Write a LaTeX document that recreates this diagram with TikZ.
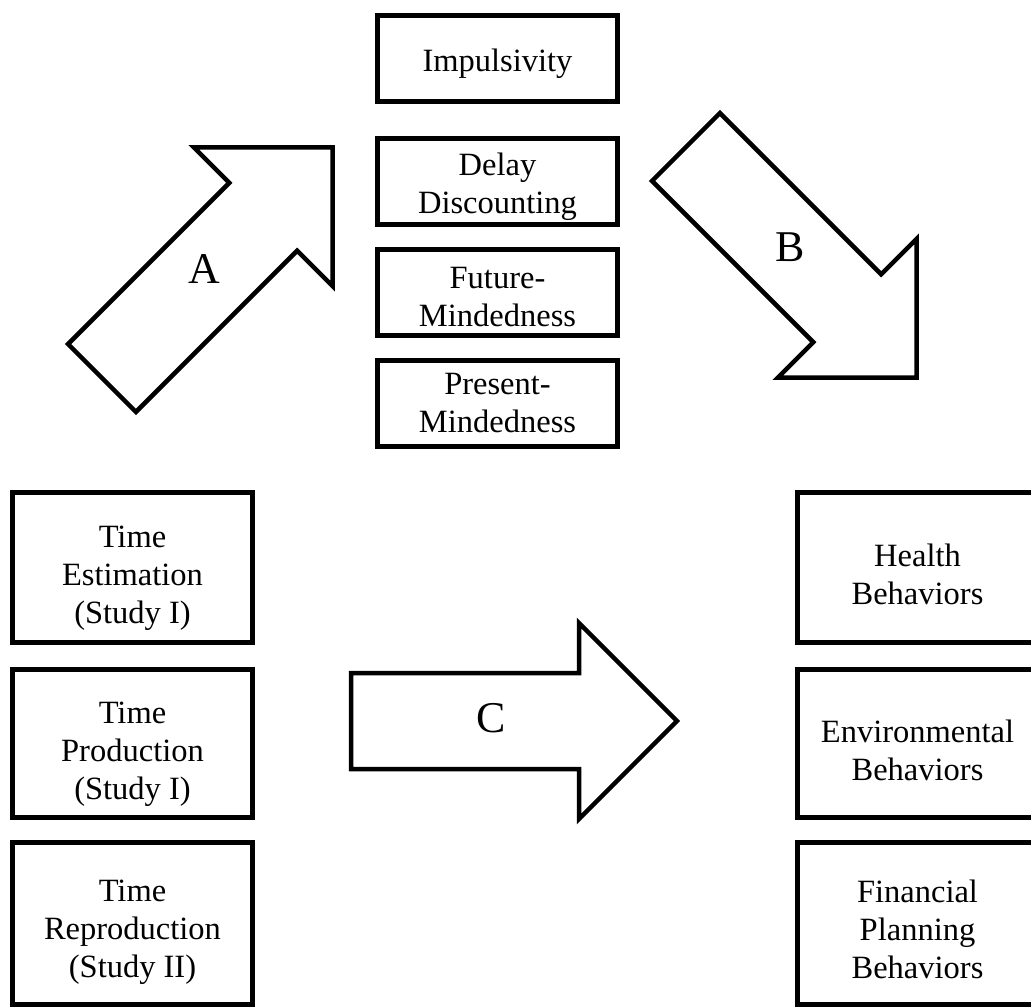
\documentclass[tikz,border=0pt]{standalone}
\usepackage{fontspec}
\setmainfont{Liberation Serif}
\usetikzlibrary{positioning}
\tikzset{
  factor/.style  = {shape=rectangle, draw, line width=0.1cm,
                    align=center, inner sep=0pt,
                    minimum width=4.8cm, minimum height=1.72cm,
                    font=\fontsize{18.5}{21.6}\selectfont},
  measure/.style = {factor, minimum height=3cm},
  outcome/.style = {measure},
  letter/.style  = {inner sep=0pt, font=\fontsize{25}{30}\selectfont},
  block/.style   = {draw, line width=0.09cm, miter limit=20}
}
% taller first line, pushes the text down in its box
\newcommand{\topstrut}[1]{\rule{0pt}{#1}}
% block arrow: tail centre, angle
\newcommand{\blockarrow}[2]{%
  \begin{scope}[shift={#1}, rotate=#2]
    \draw[block] (0,48) -- (228,48) -- (228,98) -- (326,0)
      -- (228,-98) -- (228,-48) -- (0,-48) -- cycle;
  \end{scope}}

\begin{document}
\begin{tikzpicture}[x=0.02cm, y=-0.02cm]
  \clip (0,0) rectangle (1031,1007);

  % mediators
  \node [factor] (imp) at (497.5,58.5) {\topstrut{0.68cm}Impulsivity};
  \node [factor, below=0.64cm of imp] (delay)
        {\topstrut{0.66cm}Delay\\Discounting};
  \node [factor, below=0.4cm of delay] (future)
        {\topstrut{0.6cm}Future-\\Mindedness};
  \node [factor, below=0.4cm of future] (present) {Present-\\Mindedness};

  % time perception
  \node [measure] (estim) at (132.5,567.5)
        {\topstrut{0.85cm}Time\\Estimation\\(Study I)};
  \node [measure, minimum height=2.96cm, below=0.44cm of estim] (prod)
        {\topstrut{0.85cm}Time\\Production\\(Study I)};
  \node [measure, minimum height=3.24cm, below=0.4cm of prod] (repro)
        {\topstrut{0.8cm}Time\\Reproduction\\(Study II)};

  % behaviours
  \node [outcome] (health) at (917.5,567.5)
        {\topstrut{0.73cm}Health\\Behaviors};
  \node [outcome, minimum height=2.96cm, below=0.44cm of health] (env)
        {\topstrut{0.73cm}Environmental\\Behaviors};
  \node [outcome, minimum height=3.24cm, below=0.4cm of env] (fin)
        {\topstrut{0.7cm}Financial\\Planning\\Behaviors};

  % paths
  \blockarrow{(102,378)}{45}
  \blockarrow{(686,147)}{-45}
  \blockarrow{(351,721)}{0}
  \node [letter] (pathA) at (204,269) {A};
  \node [letter] (pathB) at (790,247) {B};
  \node [letter] (pathC) at (491,718) {C};
\end{tikzpicture}
\end{document}
